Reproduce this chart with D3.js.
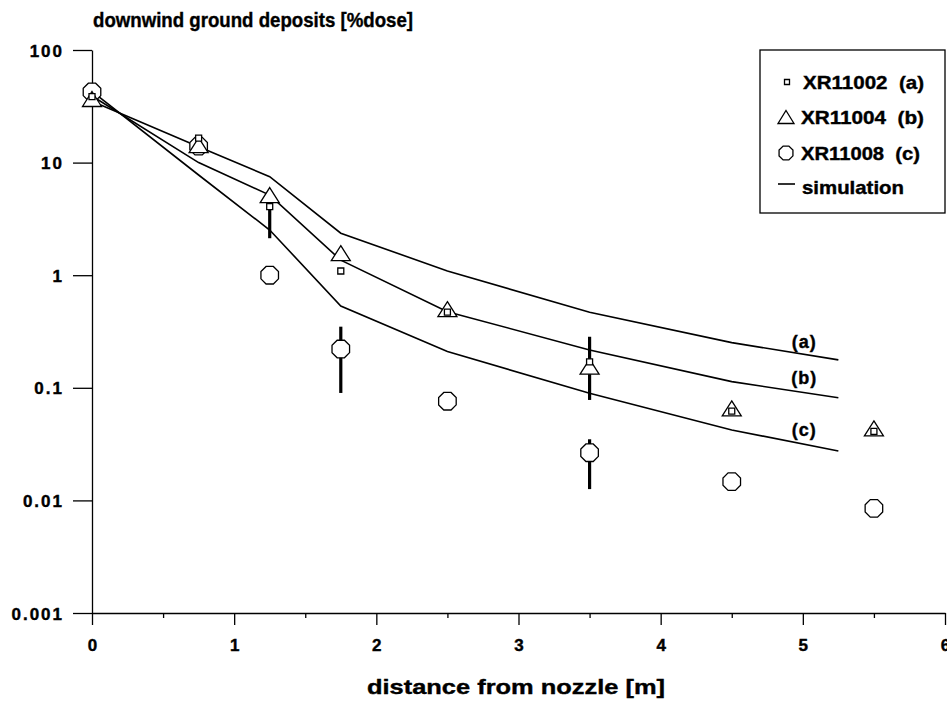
<!DOCTYPE html>
<html lang="en">
<head>
<meta charset="UTF-8">
<title>downwind ground deposits</title>
<script src="https://d3js.org/d3.v7.min.js"></script>
<style>
    body { margin: 0; background: #fff; }
    svg { display: block; }
    text { font-family: "Liberation Sans", Arial, sans-serif; font-weight: bold; fill: #000; stroke: #000; stroke-width: 0.4px; }
    .axis text { font-size: 17px; letter-spacing: 2px; }
    .axis path, .axis line { stroke: #000; stroke-width: 1.3px; }
    .legend text { font-size: 19px; }
</style>
</head>
<body>
<svg width="947" height="701"></svg>
<script>
    // measured deposits, x in m
    const measX = [0, 0.75, 1.25, 1.75, 2.5, 3.5, 4.5, 5.5];
    const measA = [38.5, 16.5, 4.06, 1.09, 0.47, 0.17, 0.062, 0.041];
    const measB = [36.7, 14.3, 5.15, 1.57, 0.5, 0.154, 0.0656, 0.0436];
    const measC = [42.4, 14, 1.0, 0.221, 0.076, 0.0265, 0.0147, 0.0085];

    // simulation curves
    const simX = [0, 0.75, 1.25, 1.75, 2.5, 3.5, 4.5, 5.25];
    const simA = [35, 13.8, 7.5, 2.36, 1.09, 0.468, 0.252, 0.177];
    const simB = [39, 10, 5.15, 1.36, 0.474, 0.217, 0.1135, 0.0816];
    const simC = [43, 7.76, 2.52, 0.533, 0.21, 0.0893, 0.0422, 0.0275];

    // error bars (x, low, high)
    const errX = [1.25, 1.75, 3.5, 3.5];
    const errLo = [2.13, 0.09, 0.078, 0.0126];
    const errHi = [4.06, 0.349, 0.284, 0.0349];

    const curveLabels = ["(a)", "(b)", "(c)"];
    const curveLabelX = [5.01, 5.01, 5.01];
    const curveLabelY = [0.257, 0.122, 0.042];

    const yTicks = [100, 10, 1, 0.1, 0.01, 0.001];
    const xTicks = d3.range(0, 6.01, 0.5);

    const svg = d3.select("svg");

    const x = d3.scaleLinear().domain([0, 6]).range([92, 945]);
    const y = d3.scaleLog().domain([0.001, 100]).range([613, 50]);

    // axes
    svg.append("g")
        .attr("class", "axis")
        .attr("transform", "translate(92,0)")
        .call(d3.axisLeft(y).tickValues(yTicks).tickFormat(d3.format("~g"))
            .tickSize(19).tickPadding(9).tickSizeOuter(0))
        .selectAll("text").attr("dy", "0.36em");

    const xa = svg.append("g")
        .attr("class", "axis")
        .attr("transform", "translate(0,613)")
        .call(d3.axisBottom(x).tickValues(xTicks)
            .tickFormat(d => Number.isInteger(d) ? d : "")
            .tickSize(12).tickPadding(14).tickSizeOuter(0));
    xa.selectAll(".tick line").attr("y2", d => Number.isInteger(d) ? 12 : 5);
    xa.selectAll(".tick text").attr("dx", "1px");

    // titles
    svg.append("text")
        .attr("x", 93).attr("y", 27)
        .attr("textLength", 320).attr("lengthAdjust", "spacingAndGlyphs")
        .style("font-size", "21px")
        .text("downwind ground deposits [%dose]");

    svg.append("text")
        .attr("x", 367).attr("y", 694)
        .attr("textLength", 298).attr("lengthAdjust", "spacingAndGlyphs")
        .style("font-size", "21px")
        .text("distance from nozzle [m]");

    // simulation lines
    const line = d3.line().x((d, i) => x(simX[i])).y(d => y(d));
    [simA, simB, simC].forEach(s => {
        svg.append("path")
            .attr("d", line(s))
            .attr("fill", "none")
            .attr("stroke", "#000")
            .attr("stroke-width", 1.6);
    });

    svg.selectAll(".curve-label")
        .data(curveLabels)
        .join("text")
        .attr("class", "curve-label")
        .attr("x", (d, i) => x(curveLabelX[i]))
        .attr("y", (d, i) => y(curveLabelY[i]))
        .attr("text-anchor", "middle")
        .attr("dominant-baseline", "central")
        .style("font-size", "18px")
        .style("letter-spacing", "1px")
        .text(d => d);

    // error bars
    svg.selectAll(".err")
        .data(errX)
        .join("line")
        .attr("class", "err")
        .attr("x1", d => x(d)).attr("x2", d => x(d))
        .attr("y1", (d, i) => y(errLo[i]))
        .attr("y2", (d, i) => y(errHi[i]))
        .attr("stroke", "#000")
        .attr("stroke-width", 3.2);

    // marker shapes
    function octagon(r) {
        const pts = d3.range(8).map(k => {
            const a = Math.PI / 8 + k * Math.PI / 4;
            return [r * Math.cos(a), r * Math.sin(a)];
        });
        return "M" + pts.join("L") + "Z";
    }
    function triangle(w, h) {
        return `M0,${-h / 2}L${w / 2},${h / 2}L${-w / 2},${h / 2}Z`;
    }
    function square(s) {
        return `M${-s / 2},${-s / 2}h${s}v${s}h${-s}Z`;
    }

    const markerStyle = sel => sel
        .attr("fill", "#fff")
        .attr("stroke", "#000")
        .attr("stroke-width", 1.3);

    svg.selectAll(".mc")
        .data(measC)
        .join("path")
        .attr("class", "mc")
        .attr("d", octagon(9.5))
        .attr("transform", (d, i) => `translate(${x(measX[i])},${y(d)})`)
        .call(markerStyle);

    svg.selectAll(".mb")
        .data(measB)
        .join("path")
        .attr("class", "mb")
        .attr("d", triangle(19, 15))
        .attr("transform", (d, i) => `translate(${x(measX[i])},${y(d)})`)
        .call(markerStyle);

    svg.selectAll(".ma")
        .data(measA)
        .join("path")
        .attr("class", "ma")
        .attr("d", square(6))
        .attr("transform", (d, i) => `translate(${x(measX[i])},${y(d)})`)
        .call(markerStyle);

    // legend
    const lg = svg.append("g").attr("class", "legend");
    lg.append("rect")
        .attr("x", 760).attr("y", 50)
        .attr("width", 185).attr("height", 163)
        .attr("fill", "#fff").attr("stroke", "#000").attr("stroke-width", 1.3);

    const legendNames = ["XR11002  (a)", "XR11004  (b)", "XR11008  (c)", "simulation"];
    const legendRows = [82, 117, 153, 187];
    const legendTextX = [803, 801, 801, 802];
    const legendTextLen = [121, 123, 119, 102];
    const legendSym = [square(5), triangle(16, 13), octagon(7.5), null];

    legendNames.forEach((name, i) => {
        const cy = legendRows[i];
        if (legendSym[i]) {
            lg.append("path")
                .attr("d", legendSym[i])
                .attr("transform", `translate(${i === 0 ? 787 : 786},${cy})`)
                .call(markerStyle);
        } else {
            lg.append("line")
                .attr("x1", 778).attr("x2", 795)
                .attr("y1", cy - 3).attr("y2", cy - 3)
                .attr("stroke", "#000").attr("stroke-width", 1.6);
        }
        lg.append("text")
            .attr("x", legendTextX[i])
            .attr("y", cy)
            .attr("dy", "0.35em")
            .attr("textLength", legendTextLen[i])
            .attr("lengthAdjust", "spacingAndGlyphs")
            .style("white-space", "pre")
            .text(name);
    });
</script>
</body>
</html>
